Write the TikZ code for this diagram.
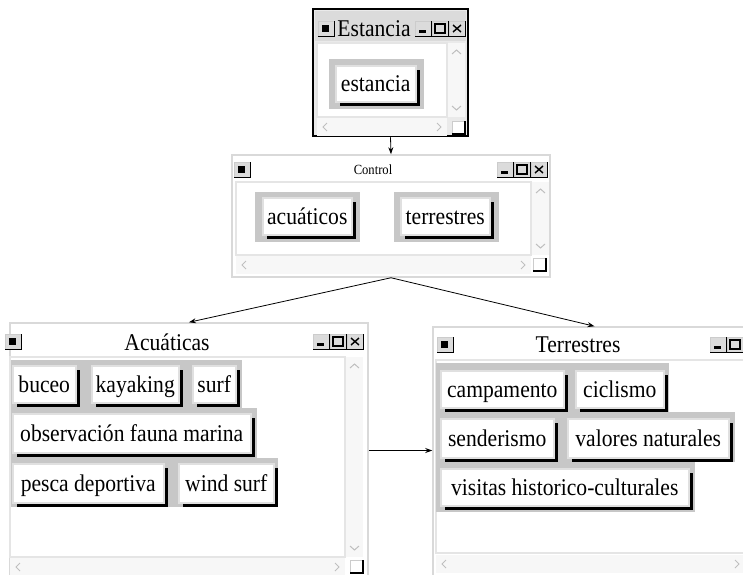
\documentclass[tikz,border=0pt]{standalone}
\usepackage{fontspec}
\setmainfont{Liberation Serif}[FakeStretch=0.9]
\usepackage{tikz}
\usetikzlibrary{shadows,arrows.meta}

\definecolor{panelgray}{gray}{0.78}
\definecolor{chromegray}{gray}{0.86}
\definecolor{scrollgray}{gray}{0.97}

\newcommand{\btnfont}{\fontsize{24}{26}\selectfont}
\newcommand{\smallfont}{\fontsize{14}{16}\selectfont}

% title bar pieces (x,y = top left corner)
\newcommand{\tbox}[2]{\draw[fill=chromegray,draw=black!20] (#1,#2) rectangle ++(16,15);
  \draw[line width=1pt] (#1+16,#2) -- ++(0,15) -- ++(-16,0);}
\newcommand{\winicon}[2]{\tbox{#1}{#2}\fill (#1+4,#2+4) rectangle ++(7,7);}
\newcommand{\minbtn}[2]{\tbox{#1}{#2}\fill (#1+4,#2+9) rectangle ++(7,2.5);}
\newcommand{\maxbtn}[2]{\tbox{#1}{#2}\draw[line width=1.3pt] (#1+3,#2+3) rectangle ++(10,9);}
\newcommand{\closebtn}[2]{\tbox{#1}{#2}\draw[line width=1.4pt] (#1+4,#2+4) -- ++(8,7) (#1+12,#2+4) -- ++(-8,7);}
% scroll bars: x, ytop, ybottom / xleft, xright, ytop
\newcommand{\vscroll}[3]{\fill[scrollgray] (#1,#2) rectangle (#1+17,#3);
  \draw[black!25,line width=1pt] (#1+4,#2+11) -- (#1+8.5,#2+7) -- (#1+13,#2+11)
    (#1+4,#3-11) -- (#1+8.5,#3-7) -- (#1+13,#3-11);}
\newcommand{\hscroll}[3]{\fill[scrollgray] (#1,#3) rectangle (#2,#3+18);
  \draw[black!25,line width=1pt] (#1+10,#3+5) -- (#1+6,#3+9) -- (#1+10,#3+13)
    (#2-10,#3+5) -- (#2-6,#3+9) -- (#2-10,#3+13);}
\newcommand{\grip}[2]{\draw[fill=white,draw=black!20] (#1,#2) rectangle ++(13,13);
  \draw[line width=1.2pt] (#1+13,#2) -- ++(0,13) -- ++(-13,0);}

\tikzset{
  window/.style={draw=black!15, line width=1.5pt, fill=white, inner sep=0pt},
  body/.style={fill=white, draw=black!10, line width=1.5pt},
  panel/.style={fill=panelgray},
  btn/.style={fill=white, draw=black!12, line width=1.5pt, inner sep=0pt,
    anchor=north west, font=\btnfont, minimum height=37pt,
    text height=18pt, text depth=2pt,
    drop shadow={shadow xshift=4.5pt, shadow yshift=-4.5pt, fill=black, opacity=1}},
  link/.style={-{Stealth[length=7pt,width=5pt]}, line width=0.8pt}
}

\begin{document}
\begin{tikzpicture}[x=1pt,y=-1pt]
  \useasboundingbox (0,0) rectangle (743,574);

  % Estancia
  \node[window, draw=black, line width=2.5pt, fill=chromegray!60,
        minimum width=155pt, minimum height=127pt] (wEst) at (390.5,72.5) {};
  \fill[chromegray] (315,11) rectangle (466,41);
  \winicon{318}{21}
  \node[font=\btnfont] (tEst) at (374,29) {Estancia};
  \minbtn{415}{21} \maxbtn{432}{21} \closebtn{449}{21}
  \draw[body] (317,43) rectangle (447,117);
  \vscroll{448}{43}{117}
  \hscroll{317}{447}{118}
  \grip{452}{121}
  \fill[panel] (329,59) rectangle (424,109);
  \node[btn, minimum width=80pt, minimum height=36pt] (bEstancia) at (335,65) {estancia};

  % Control
  \node[window, minimum width=318pt, minimum height=122pt] (wCtl) at (391,216) {};
  \winicon{234}{162}
  \node[font=\smallfont] (tCtl) at (373,170) {Control};
  \minbtn{497}{162} \maxbtn{514}{162} \closebtn{531}{162}
  \draw[body] (236,182) rectangle (531,255);
  \vscroll{532}{182}{255}
  \hscroll{236}{531}{256}
  \grip{533}{258}
  \fill[panel] (255,192) rectangle (360,242);
  \fill[panel] (394,192) rectangle (499,242);
  \node[btn, minimum width=89pt] (bAcu) at (262,197) {acuáticos};
  \node[btn, minimum width=89pt] (bTer) at (400,197) {terrestres};

  % Acuaticas
  \node[window, minimum width=358pt, minimum height=255pt] (wAcu) at (189,450.5) {};
  \winicon{5}{334}
  \node[font=\btnfont] (tAcu) at (167,342) {Acuáticas};
  \minbtn{313}{334} \maxbtn{330}{334} \closebtn{347}{334}
  \draw[body] (10,357) rectangle (345,557);
  \vscroll{346}{357}{557}
  \hscroll{10}{345}{558}
  \grip{350}{560}
  \fill[panel] (11,360) rectangle (242,408);
  \fill[panel] (11,408) rectangle (257,458);
  \fill[panel] (11,458) rectangle (278,507);
  \node[btn, minimum width=63pt] (bBuceo) at (12,365) {buceo};
  \node[btn, minimum width=87pt] (bKayak) at (91,365) {kayaking};
  \node[btn, minimum width=43pt] (bSurf) at (192,365) {surf};
  \node[btn, minimum width=238pt, minimum height=39pt] (bFauna) at (12,413) {observación fauna marina};
  \node[btn, minimum width=151pt, minimum height=39pt] (bPesca) at (12,463) {pesca deportiva};
  \node[btn, minimum width=95pt, minimum height=39pt] (bWind) at (178,463) {wind surf};

  % Terrestres
  \node[window, minimum width=315pt, minimum height=251pt] (wTer) at (590.5,452.5) {};
  \winicon{437}{337}
  \node[font=\btnfont] (tTer) at (578,345) {Terrestres};
  \minbtn{710}{337} \maxbtn{727}{337}
  \draw[body] (436,360) rectangle (748,553);
  \hscroll{436}{745}{555}
  \fill[panel] (436,363) rectangle (669,412);
  \fill[panel] (436,412) rectangle (735,462);
  \fill[panel] (436,462) rectangle (695,512);
  \node[btn, minimum width=123pt] (bCamp) at (440,370) {campamento};
  \node[btn, minimum width=88pt] (bCicl) at (575,370) {ciclismo};
  \node[btn, minimum width=113pt, minimum height=39pt] (bSend) at (440,418) {senderismo};
  \node[btn, minimum width=161pt, minimum height=39pt] (bValo) at (567,418) {valores naturales};
  \node[btn, minimum width=248pt] (bVisi) at (440,468) {visitas historico-culturales};

  % links
  \draw[link] (wEst.south) -- (wCtl.north);
  \draw[link] (wCtl.south) -- (wAcu.north);
  \draw[link] (wCtl.south) -- ([xshift=4pt]wTer.north);
  \draw[link] (wAcu.east) -- (wAcu.east -| wTer.west);
\end{tikzpicture}
\end{document}
